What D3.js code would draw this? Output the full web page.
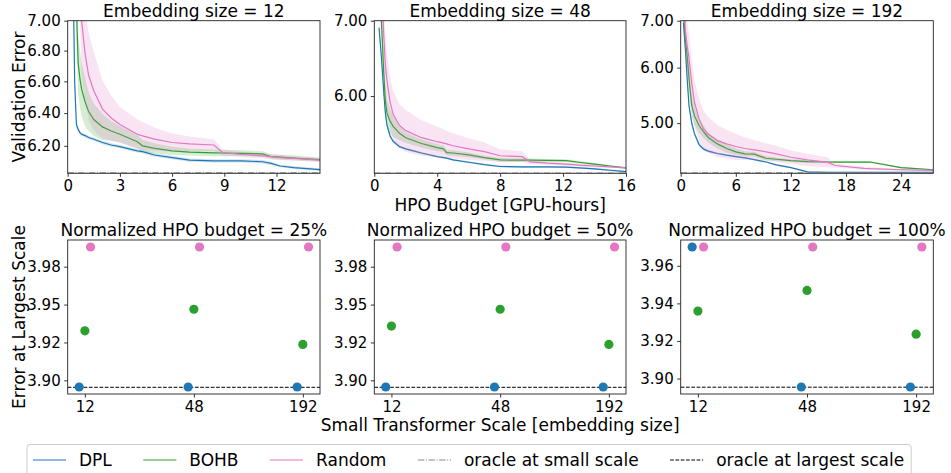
<!DOCTYPE html>
<html>
<head>
<meta charset="utf-8">
<script src="https://cdn.jsdelivr.net/npm/d3@7/dist/d3.min.js"></script>
<style>
  body { margin: 0; background: #fff; }
  svg { font-family: "DejaVu Sans", sans-serif; }
</style>
</head>
<body>
<svg id="chart" width="951" height="473"></svg>
<script>
// ---- top row: anytime validation error vs HPO budget (GPU-hours)
const budget12 = [0.3, 0.4, 0.5, 0.6, 0.7, 0.8, 1.0, 1.2, 1.5, 2, 2.5, 3, 4, 4.3, 5, 6, 7, 8.4, 8.9, 10, 11.2, 11.7, 12.2, 13, 14.5];
const dpl12    = [7.4, 6.6, 6.33, 6.3, 6.28, 6.27, 6.262, 6.25, 6.24, 6.22, 6.205, 6.195, 6.17, 6.165, 6.145, 6.13, 6.115, 6.11, 6.11, 6.11, 6.105, 6.095, 6.08, 6.07, 6.058];
const bohb12   = [9, 8, 7.1, 6.72, 6.62, 6.55, 6.47, 6.41, 6.36, 6.315, 6.29, 6.27, 6.225, 6.2, 6.185, 6.17, 6.162, 6.158, 6.157, 6.155, 6.152, 6.135, 6.132, 6.127, 6.118];
const random12 = [10, 9.5, 9, 8, 7.4, 7.0, 6.78, 6.64, 6.54, 6.425, 6.37, 6.33, 6.27, 6.26, 6.24, 6.22, 6.212, 6.205, 6.16, 6.148, 6.14, 6.135, 6.13, 6.125, 6.115];
const dplSd12    = [0.05, 0.04, 0.02, 0.015, 0.012, 0.01, 0.01, 0.01, 0.01, 0.01, 0.01, 0.01, 0.01, 0.01, 0.01, 0.01, 0.01, 0.01, 0.01, 0.01, 0.01, 0.01, 0.008, 0.008, 0.008];
const bohbSd12   = [0.3, 0.3, 0.25, 0.2, 0.18, 0.17, 0.15, 0.12, 0.1, 0.08, 0.06, 0.05, 0.04, 0.035, 0.03, 0.025, 0.02, 0.02, 0.02, 0.018, 0.015, 0.015, 0.015, 0.015, 0.012];
const randomSd12 = [0.4, 0.4, 0.4, 0.4, 0.4, 0.35, 0.3, 0.28, 0.25, 0.18, 0.14, 0.11, 0.09, 0.085, 0.07, 0.055, 0.045, 0.035, 0.018, 0.015, 0.015, 0.015, 0.015, 0.013, 0.012];

const budget48 = [0.3, 0.45, 0.6, 0.7, 0.8, 1.0, 1.2, 1.6, 2, 3, 4, 4.4, 4.6, 5, 6, 7, 8, 9.4, 9.9, 11, 12.2, 13, 14, 15, 16];
const dpl48    = [6.9, 6.5, 6.05, 5.8, 5.66, 5.53, 5.47, 5.41, 5.385, 5.34, 5.3, 5.29, 5.285, 5.265, 5.24, 5.215, 5.195, 5.19, 5.19, 5.19, 5.188, 5.18, 5.17, 5.155, 5.14];
const bohb48   = [8, 7.0, 6.3, 5.95, 5.8, 5.7, 5.64, 5.56, 5.51, 5.445, 5.4, 5.385, 5.345, 5.34, 5.32, 5.29, 5.265, 5.262, 5.262, 5.26, 5.258, 5.24, 5.22, 5.2, 5.18];
const random48 = [9, 7.6, 6.8, 6.4, 6.2, 5.93, 5.78, 5.65, 5.59, 5.51, 5.465, 5.45, 5.44, 5.42, 5.385, 5.355, 5.31, 5.3, 5.245, 5.23, 5.22, 5.21, 5.2, 5.19, 5.18];
const dplSd48    = [0.08, 0.06, 0.05, 0.04, 0.03, 0.02, 0.02, 0.015, 0.012, 0.01, 0.01, 0.01, 0.01, 0.01, 0.01, 0.01, 0.01, 0.01, 0.01, 0.01, 0.01, 0.01, 0.01, 0.01, 0.01];
const bohbSd48   = [0.3, 0.25, 0.2, 0.18, 0.16, 0.15, 0.12, 0.08, 0.06, 0.045, 0.04, 0.035, 0.03, 0.03, 0.025, 0.02, 0.02, 0.02, 0.018, 0.015, 0.015, 0.015, 0.012, 0.01, 0.01];
const randomSd48 = [0.5, 0.5, 0.45, 0.4, 0.35, 0.3, 0.28, 0.25, 0.24, 0.2, 0.17, 0.16, 0.15, 0.14, 0.12, 0.1, 0.07, 0.06, 0.02, 0.02, 0.018, 0.015, 0.015, 0.012, 0.01];

const budget192 = [0.3, 0.5, 0.7, 0.9, 1.2, 1.5, 2, 2.5, 3, 4, 5, 6, 7, 8, 9.3, 10.4, 12, 13.8, 16, 16.8, 20, 20.6, 24, 27.5];
const dpl192    = [6.95, 6.4, 5.8, 5.3, 5.0, 4.83, 4.66, 4.59, 4.56, 4.525, 4.5, 4.48, 4.46, 4.435, 4.4, 4.36, 4.32, 4.26, 4.255, 4.255, 4.255, 4.255, 4.255, 4.255];
const bohb192   = [7.2, 6.6, 6.25, 5.8, 5.3, 5.12, 4.96, 4.86, 4.77, 4.67, 4.6, 4.55, 4.52, 4.515, 4.455, 4.44, 4.42, 4.405, 4.4, 4.4, 4.4, 4.4, 4.32, 4.29];
const random192 = [8, 6.8, 6.45, 6.2, 5.7, 5.35, 5.07, 4.9, 4.82, 4.72, 4.67, 4.63, 4.6, 4.58, 4.55, 4.52, 4.47, 4.43, 4.395, 4.35, 4.31, 4.305, 4.29, 4.28];
const dplSd192    = [0.1, 0.1, 0.08, 0.06, 0.05, 0.04, 0.03, 0.02, 0.02, 0.015, 0.012, 0.01, 0.01, 0.01, 0.01, 0.01, 0.01, 0.01, 0.008, 0.008, 0.008, 0.008, 0.008, 0.008];
const bohbSd192   = [0.3, 0.3, 0.3, 0.25, 0.2, 0.15, 0.12, 0.1, 0.08, 0.07, 0.06, 0.05, 0.04, 0.035, 0.03, 0.025, 0.02, 0.02, 0.015, 0.015, 0.015, 0.015, 0.012, 0.01];
const randomSd192 = [0.6, 0.6, 0.55, 0.5, 0.45, 0.4, 0.35, 0.3, 0.28, 0.25, 0.22, 0.2, 0.17, 0.15, 0.13, 0.12, 0.1, 0.09, 0.07, 0.03, 0.02, 0.02, 0.015, 0.01];

const embeddingSizes = [12, 48, 192];
const budgetMax = [14.5, 16, 27.5];
const oracleSmall = [6.04, 5.126, 4.246];
const errorFloor = [6.037, 5.123, 4.24];
const budgetTicks = [[0, 3, 6, 9, 12], [0, 4, 8, 12, 16], [0, 6, 12, 18, 24]];
const errorTicks = [[6.2, 6.4, 6.6, 6.8, 7.0], [6, 7], [5, 6, 7]];

// ---- bottom row: error at largest scale vs small transformer scale
const smallScales = [12, 48, 192];
const budgetPercents = [25, 50, 100];
const dplLargest    = [[3.8956, 3.8956, 3.8956], [3.8956, 3.8956, 3.8956], [3.970, 3.8955, 3.8955]];
const bohbLargest   = [[3.9327, 3.9469, 3.9237], [3.9358, 3.9469, 3.9237], [3.9359, 3.9469, 3.9236]];
const randomLargest = [[3.988, 3.988, 3.988], [3.988, 3.988, 3.988], [3.970, 3.970, 3.970]];
const oracleLargest = 3.8954;
const largestTicks = [[3.9, 3.925, 3.95, 3.975], [3.9, 3.925, 3.95, 3.975], [3.9, 3.92, 3.94, 3.96]];

const colors = { dpl: "#1f77b4", bohb: "#2ca02c", random: "#e377c2" };
const jitter = { dpl: 0.93, bohb: 1.0, random: 1.075 };

const svg = d3.select("#chart");
const cols = [[67.7, 320], [374.3, 626], [680.7, 933.3]];
const topRow = [20.7, 173.3];
const botRow = [240, 394];

function styleAxis(g) {
  g.attr("font-family", null).attr("font-size", null);
  g.select(".domain").remove();
  g.selectAll(".tick line").attr("stroke", "#000").attr("stroke-width", 0.8);
  g.selectAll(".tick text").attr("fill", "#000").style("font-size", "15px");
}

function frame(x0, x1, y0, y1) {
  svg.append("rect")
    .attr("x", x0).attr("y", y0)
    .attr("width", x1 - x0).attr("height", y1 - y0)
    .attr("fill", "none").attr("stroke", "#222").attr("stroke-width", 0.9);
}

function title(text, cx, baseline) {
  svg.append("text").attr("x", cx).attr("y", baseline)
    .attr("text-anchor", "middle").style("font-size", "17px").text(text);
}

// top panels
const topData = [
  { x: budget12, series: [[dpl12, dplSd12, "dpl"], [bohb12, bohbSd12, "bohb"], [random12, randomSd12, "random"]] },
  { x: budget48, series: [[dpl48, dplSd48, "dpl"], [bohb48, bohbSd48, "bohb"], [random48, randomSd48, "random"]] },
  { x: budget192, series: [[dpl192, dplSd192, "dpl"], [bohb192, bohbSd192, "bohb"], [random192, randomSd192, "random"]] }
];

topData.forEach((p, i) => {
  const [x0, x1] = cols[i];
  const x = d3.scaleLinear().domain([0, budgetMax[i]]).range([x0, x1]);
  const y = d3.scaleLog().domain([errorFloor[i], 7]).range([topRow[1], topRow[0]]);

  const clipId = "clip-top-" + i;
  svg.append("clipPath").attr("id", clipId).append("rect")
    .attr("x", x0).attr("y", topRow[0]).attr("width", x1 - x0).attr("height", topRow[1] - topRow[0]);
  const plot = svg.append("g").attr("clip-path", `url(#${clipId})`);

  p.series.forEach(([mean, sd, key]) => {
    const pts = p.x.map((xv, k) => ({ x: xv, m: mean[k], s: sd[k] }));
    plot.append("path").datum(pts)
      .attr("d", d3.area().x((d) => x(d.x)).y0((d) => y(d.m - d.s)).y1((d) => y(d.m + d.s)))
      .attr("fill", colors[key]).attr("fill-opacity", 0.2);
    plot.append("path").datum(pts)
      .attr("d", d3.line().x((d) => x(d.x)).y((d) => y(d.m)))
      .attr("fill", "none").attr("stroke", colors[key]).attr("stroke-width", 1.2);
  });

  plot.append("line")
    .attr("x1", x0).attr("x2", x1)
    .attr("y1", y(oracleSmall[i])).attr("y2", y(oracleSmall[i]))
    .attr("stroke", "#888").attr("stroke-width", 1.2).attr("stroke-dasharray", "6.4,1.6,1,1.6");

  svg.append("g").attr("transform", `translate(0,${topRow[1]})`)
    .call(d3.axisBottom(x).tickValues(budgetTicks[i]).tickFormat(d3.format("d")).tickSize(3.5).tickPadding(3.5))
    .call(styleAxis);
  svg.append("g").attr("transform", `translate(${x0},0)`)
    .call(d3.axisLeft(y).tickValues(errorTicks[i]).tickFormat(d3.format(".2f")).tickSize(3.5).tickPadding(3.5))
    .call(styleAxis);

  frame(x0, x1, topRow[0], topRow[1]);
  title(`Embedding size = ${embeddingSizes[i]}`, (x0 + x1) / 2, topRow[0] - 4);
});

// bottom panels
const botSeries = [["dpl", dplLargest], ["bohb", bohbLargest], ["random", randomLargest]];

budgetPercents.forEach((pct, i) => {
  const [x0, x1] = cols[i];
  const xs = [], ys = [];
  botSeries.forEach(([key, vals]) => {
    smallScales.forEach((s, k) => { xs.push(s * jitter[key]); ys.push(vals[i][k]); });
  });
  const lx = d3.extent(xs).map(Math.log);
  const padX = 0.05 * (lx[1] - lx[0]);
  const x = d3.scaleLog().domain([Math.exp(lx[0] - padX), Math.exp(lx[1] + padX)]).range([x0, x1]);
  const ey = d3.extent(ys);
  const padY = 0.05 * (ey[1] - ey[0]);
  const y = d3.scaleLinear().domain([ey[0] - padY, ey[1] + padY]).range([botRow[1], botRow[0]]);

  svg.append("line")
    .attr("x1", x0).attr("x2", x1)
    .attr("y1", y(oracleLargest)).attr("y2", y(oracleLargest))
    .attr("stroke", "#000").attr("stroke-width", 1).attr("stroke-dasharray", "3.7,1.6");

  botSeries.forEach(([key, vals]) => {
    svg.append("g").selectAll("circle")
      .data(smallScales.map((s, k) => ({ s, v: vals[i][k] })))
      .join("circle")
      .attr("cx", (d) => x(d.s * jitter[key]))
      .attr("cy", (d) => y(d.v))
      .attr("r", 4.6)
      .attr("fill", colors[key]);
  });

  svg.append("g").attr("transform", `translate(0,${botRow[1]})`)
    .call(d3.axisBottom(x).tickValues(smallScales).tickFormat((d) => d).tickSize(3.5).tickPadding(3.5))
    .call(styleAxis);
  svg.append("g").attr("transform", `translate(${x0},0)`)
    .call(d3.axisLeft(y).tickValues(largestTicks[i]).tickFormat((d) => d.toFixed(2)).tickSize(3.5).tickPadding(3.5))
    .call(styleAxis);

  frame(x0, x1, botRow[0], botRow[1]);
  title(`Normalized HPO budget = ${pct}%`, (x0 + x1) / 2, botRow[0] - 4);
});

// axis labels
const midX = (cols[1][0] + cols[1][1]) / 2;
title("HPO Budget [GPU-hours]", midX, 211);
title("Small Transformer Scale [embedding size]", midX, 430.5);

svg.append("text")
  .attr("transform", `translate(25,${(topRow[0] + topRow[1]) / 2}) rotate(-90)`)
  .attr("text-anchor", "middle").style("font-size", "17px").text("Validation Error");
svg.append("text")
  .attr("transform", `translate(25,${(botRow[0] + botRow[1]) / 2}) rotate(-90)`)
  .attr("text-anchor", "middle").style("font-size", "17px").text("Error at Largest Scale");

// legend
const legendItems = [
  { label: "DPL", color: colors.dpl, dash: null },
  { label: "BOHB", color: colors.bohb, dash: null },
  { label: "Random", color: colors.random, dash: null },
  { label: "oracle at small scale", color: "#888", dash: "6.4,1.6,1,1.6" },
  { label: "oracle at largest scale", color: "#000", dash: "3.7,1.6" }
];
const legend = svg.append("g");
const box = legend.append("rect");
let cx = 33;
legendItems.forEach((it) => {
  legend.append("line")
    .attr("x1", cx).attr("x2", cx + 33).attr("y1", 460).attr("y2", 460)
    .attr("stroke", it.color).attr("stroke-width", 1.2)
    .attr("stroke-dasharray", it.dash);
  const t = legend.append("text")
    .attr("x", cx + 33 + 13).attr("y", 466)
    .style("font-size", "17px").text(it.label);
  cx += 33 + 13 + t.node().getComputedTextLength() + 31.5;
});
box.attr("x", 27).attr("y", 444.5)
  .attr("width", cx - 31.5 + 7 - 27).attr("height", 40)
  .attr("rx", 3).attr("fill", "#fff").attr("stroke", "#ccc").attr("stroke-width", 1);
</script>
</body>
</html>
